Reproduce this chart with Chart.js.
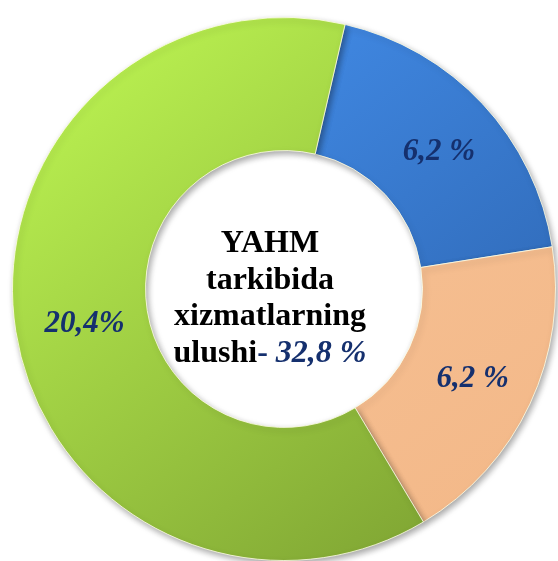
<!DOCTYPE html>
<html lang="en">
  <head>
    <meta charset="UTF-8" />
    <script src="https://cdn.jsdelivr.net/npm/chart.js@4"></script>
    <title>YAHM</title>
    <style>
      html, body { margin: 0; padding: 0; background: #fff; }
      #wrap { width: 558px; height: 561px; }
    </style>
  </head>
  <body>
    <div id="wrap"><canvas id="myChart"></canvas></div>
    <script>
      // data
      const sectors = ["blue", "peach", "green"];
      const shares = [6.2, 6.2, 20.4];
      const shareLabels = ["6,2 %", "6,2 %", "20,4%"];
      const centerLines = ["YAHM", "tarkibida", "xizmatlarning", "ulushi"];

      const lightColors = ["#4693f2", "#f8c59a", "#bdf552"];
      const darkColors = ["#2a5fa8", "#f3b888", "#7b9f31"];
      const navy = "#15306e";
      const serif = "'Liberation Serif', 'DejaVu Serif', serif";

      function grad(context) {
        const chart = context.chart;
        const area = chart.chartArea;
        const i = context.dataIndex;
        if (!area) return lightColors[i];
        const g = chart.ctx.createLinearGradient(area.left + 60, area.top, area.right - 60, area.bottom);
        g.addColorStop(0, lightColors[i]);
        g.addColorStop(1, darkColors[i]);
        return g;
      }

      const shadowPlugin = {
        id: "shadow",
        beforeDatasetDraw(chart) {
          const ctx = chart.ctx;
          ctx.save();
          ctx.shadowColor = "rgba(0,0,0,0.35)";
          ctx.shadowBlur = 6;
          ctx.shadowOffsetX = 2;
          ctx.shadowOffsetY = 3;
        },
        afterDatasetDraw(chart) {
          chart.ctx.restore();
        },
      };

      const labelPlugin = {
        id: "labels",
        afterDraw(chart) {
          const ctx = chart.ctx;
          const meta = chart.getDatasetMeta(0);
          ctx.save();
          ctx.textAlign = "center";
          ctx.textBaseline = "middle";
          ctx.fillStyle = navy;
          ctx.font = "italic bold 31px " + serif;
          meta.data.forEach((arc, i) => {
            const p = arc.tooltipPosition();
            ctx.fillText(shareLabels[i], p.x + (i === 0 ? 5 : 3), p.y + 3);
          });

          // center text
          const first = meta.data[0];
          const cx = first.x - 14, cy = first.y;
          const fBold = "bold 32px " + serif;
          const fItal = "italic bold 32px " + serif;
          ctx.textBaseline = "alphabetic";
          ctx.font = fBold;
          ctx.fillStyle = "#000";
          const lh = 36.7;
          const y0 = cy - 37;
          for (let k = 0; k < 3; k++) {
            ctx.fillText(centerLines[k], cx, y0 + k * lh);
          }
          // last line: mixed
          const total = shares.reduce((a, b) => a + b, 0);
          const totalTxt = total.toFixed(1).replace(".", ",") + " %";
          const w1 = ctx.measureText(centerLines[3]).width;
          const w2 = ctx.measureText("- ").width;
          ctx.font = fItal;
          const w3 = ctx.measureText(totalTxt).width;
          let x = cx - (w1 + w2 + w3) / 2;
          const y = y0 + 3 * lh;
          ctx.textAlign = "left";
          ctx.font = fBold;
          ctx.fillStyle = "#000";
          ctx.fillText(centerLines[3], x, y);
          x += w1;
          ctx.fillStyle = navy;
          ctx.fillText("- ", x, y);
          x += w2;
          ctx.font = fItal;
          ctx.fillText(totalTxt, x, y);
          ctx.restore();
        },
      };

      new Chart(document.getElementById("myChart"), {
        type: "doughnut",
        data: {
          labels: sectors,
          datasets: [
            {
              data: shares,
              backgroundColor: grad,
              borderColor: "rgba(255,255,230,0.8)",
              borderWidth: 1,
            },
          ],
        },
        options: {
          responsive: true,
          maintainAspectRatio: false,
          animation: false,
          rotation: 13,
          cutout: "51%",
          layout: { padding: { left: 12, right: 2, top: 17, bottom: 0 } },
          plugins: {
            legend: { display: false },
            tooltip: { enabled: false },
          },
        },
        plugins: [shadowPlugin, labelPlugin],
      });
    </script>
  </body>
</html>
